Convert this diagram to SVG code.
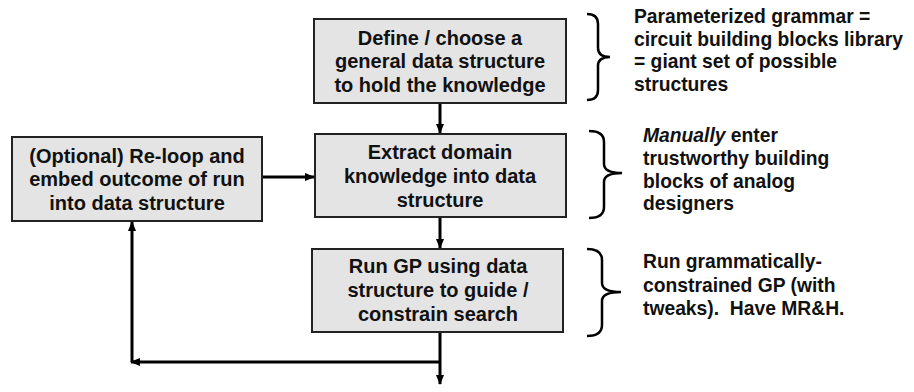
<svg xmlns="http://www.w3.org/2000/svg" width="914" height="392" viewBox="0 0 914 392">
<defs>
<marker id="ah" markerWidth="10" markerHeight="8" refX="9" refY="4" orient="auto" markerUnits="userSpaceOnUse">
<path d="M0,0 L10,4 L0,8 Z" fill="#000"/>
</marker>
<style>
.box{fill:#e4e4e4;stroke:#222;stroke-width:2}
.bt{font-family:"Liberation Sans",Arial,sans-serif;font-weight:bold;font-size:20px;fill:#111;text-anchor:middle}
.nt{font-family:"Liberation Sans",Arial,sans-serif;font-weight:bold;font-size:19.3px;fill:#111;white-space:pre}
.ln{fill:none;stroke:#000;stroke-width:3}
.br{fill:none;stroke:#000;stroke-width:2.5}
</style>
</defs>
<rect width="914" height="392" fill="#fff"/>
<g id="connectors">
<line class="ln" x1="440" y1="103" x2="440" y2="133" marker-end="url(#ah)"/>
<line class="ln" x1="440" y1="217" x2="440" y2="248" marker-end="url(#ah)"/>
<line class="ln" x1="262" y1="177" x2="314" y2="177" marker-end="url(#ah)"/>
<line class="ln" x1="440" y1="332" x2="440" y2="384" marker-end="url(#ah)"/>
<line class="ln" x1="440" y1="362" x2="131" y2="362" marker-end="url(#ah)"/>
<line class="ln" x1="132" y1="362" x2="132" y2="222" marker-end="url(#ah)"/>
</g>
<g id="define">
<rect class="box" x="314" y="19" width="252" height="84"/>
<text class="bt" x="440" y="45">Define / choose a</text>
<text class="bt" x="440" y="68">general data structure</text>
<text class="bt" x="440" y="92">to hold the knowledge</text>
</g>
<g id="extract">
<rect class="box" x="315" y="134" width="251" height="83"/>
<text class="bt" x="440" y="159">Extract domain</text>
<text class="bt" x="440" y="183">knowledge into data</text>
<text class="bt" x="440" y="207">structure</text>
</g>
<g id="reloop">
<rect class="box" x="12" y="137" width="250" height="84"/>
<text class="bt" x="137" y="163">(Optional) Re-loop and</text>
<text class="bt" x="137" y="186">embed outcome of run</text>
<text class="bt" x="137" y="210">into data structure</text>
</g>
<g id="rungp">
<rect class="box" x="312" y="249" width="251" height="83"/>
<text class="bt" x="438" y="273">Run GP using data</text>
<text class="bt" x="438" y="297">structure to guide /</text>
<text class="bt" x="438" y="321">constrain search</text>
</g>
<g id="note1">
<path class="br" d="M587,14 Q598,14 598,24 L598,48 Q598,57 610,57 Q598,57 598,66 L598,90 Q598,100 587,100"/>
<text class="nt" x="634" y="23">Parameterized grammar =</text>
<text class="nt" x="634" y="46">circuit building blocks library</text>
<text class="nt" x="634" y="68">= giant set of possible</text>
<text class="nt" x="634" y="91">structures</text>
</g>
<g id="note2">
<path class="br" d="M589,131 Q604,131 604,142 L604,164 Q604,173 622,173 Q604,173 604,182 L604,207 Q604,218 589,218"/>
<text class="nt" x="643" y="142"><tspan font-style="italic">Manually</tspan> enter</text>
<text class="nt" x="643" y="165">trustworthy building</text>
<text class="nt" x="643" y="188">blocks of analog</text>
<text class="nt" x="643" y="210">designers</text>
</g>
<g id="note3">
<path class="br" d="M587,249 Q602,249 602,260 L602,283 Q602,292 621,292 Q602,292 602,301 L602,325 Q602,336 587,336"/>
<text class="nt" x="643" y="268">Run grammatically-</text>
<text class="nt" x="643" y="292">constrained GP (with</text>
<text class="nt" x="643" y="315">tweaks).  Have MR&amp;H.</text>
</g>
</svg>
